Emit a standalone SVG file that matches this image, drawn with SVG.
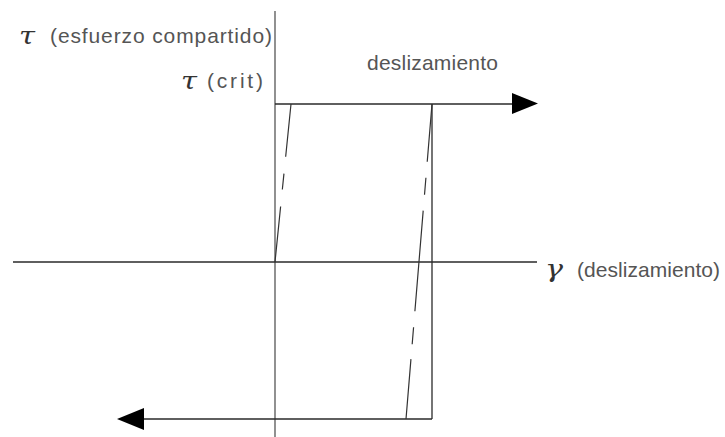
<svg xmlns="http://www.w3.org/2000/svg" width="725" height="437" viewBox="0 0 725 437">
<style>
.ln{stroke:#2a2a2a;stroke-width:1.3;fill:none}
.ax{stroke:#555;stroke-width:1.3;fill:none}
.ds{stroke:#333;stroke-width:1.2;fill:none}
.ah{fill:#000;stroke:none}
.t{font-family:"Liberation Sans",Arial,sans-serif;font-size:21px;fill:#555}
.g{font-family:"DejaVu Serif","Liberation Serif",serif;font-style:italic;font-size:24px;fill:#333}
</style>
<rect width="725" height="437" fill="#fff"/>
<g id="connectors">
<line class="ax" x1="275" y1="11" x2="275" y2="437"/>
<line class="ln" x1="13" y1="262" x2="537" y2="262"/>
<line class="ln" x1="275" y1="104" x2="514" y2="104"/>
<polygon class="ah" points="538,103.5 512,93 512,114"/>
<line class="ln" x1="432" y1="104" x2="432" y2="419"/>
<line class="ln" x1="432" y1="419" x2="142" y2="419"/>
<polygon class="ah" points="117,419 144,408 144,430"/>
<line class="ds" x1="291" y1="104" x2="275" y2="262" stroke-dasharray="53 17 16 17 60"/>
<line class="ds" x1="432" y1="104" x2="406" y2="419" stroke-dasharray="58 16 17 16 101 16 17 15 60"/>
</g>
<g id="label-tau-esfuerzo">
<text class="g" x="19" y="44" textLength="16" lengthAdjust="spacingAndGlyphs">τ</text>
<text class="t" x="50" y="43" textLength="222" lengthAdjust="spacing">(esfuerzo compartido)</text>
</g>
<g id="label-tau-crit">
<text class="g" x="181" y="89" textLength="16" lengthAdjust="spacingAndGlyphs">τ</text>
<text class="t" x="207" y="88" textLength="56" lengthAdjust="spacing">(crit)</text>
</g>
<g id="label-deslizamiento">
<text class="t" x="367" y="70" textLength="131" lengthAdjust="spacing">deslizamiento</text>
</g>
<g id="label-gamma">
<text class="g" x="545" y="277" textLength="18" lengthAdjust="spacingAndGlyphs">γ</text>
<text class="t" x="577" y="277" textLength="143" lengthAdjust="spacing">(deslizamiento)</text>
</g>
</svg>
